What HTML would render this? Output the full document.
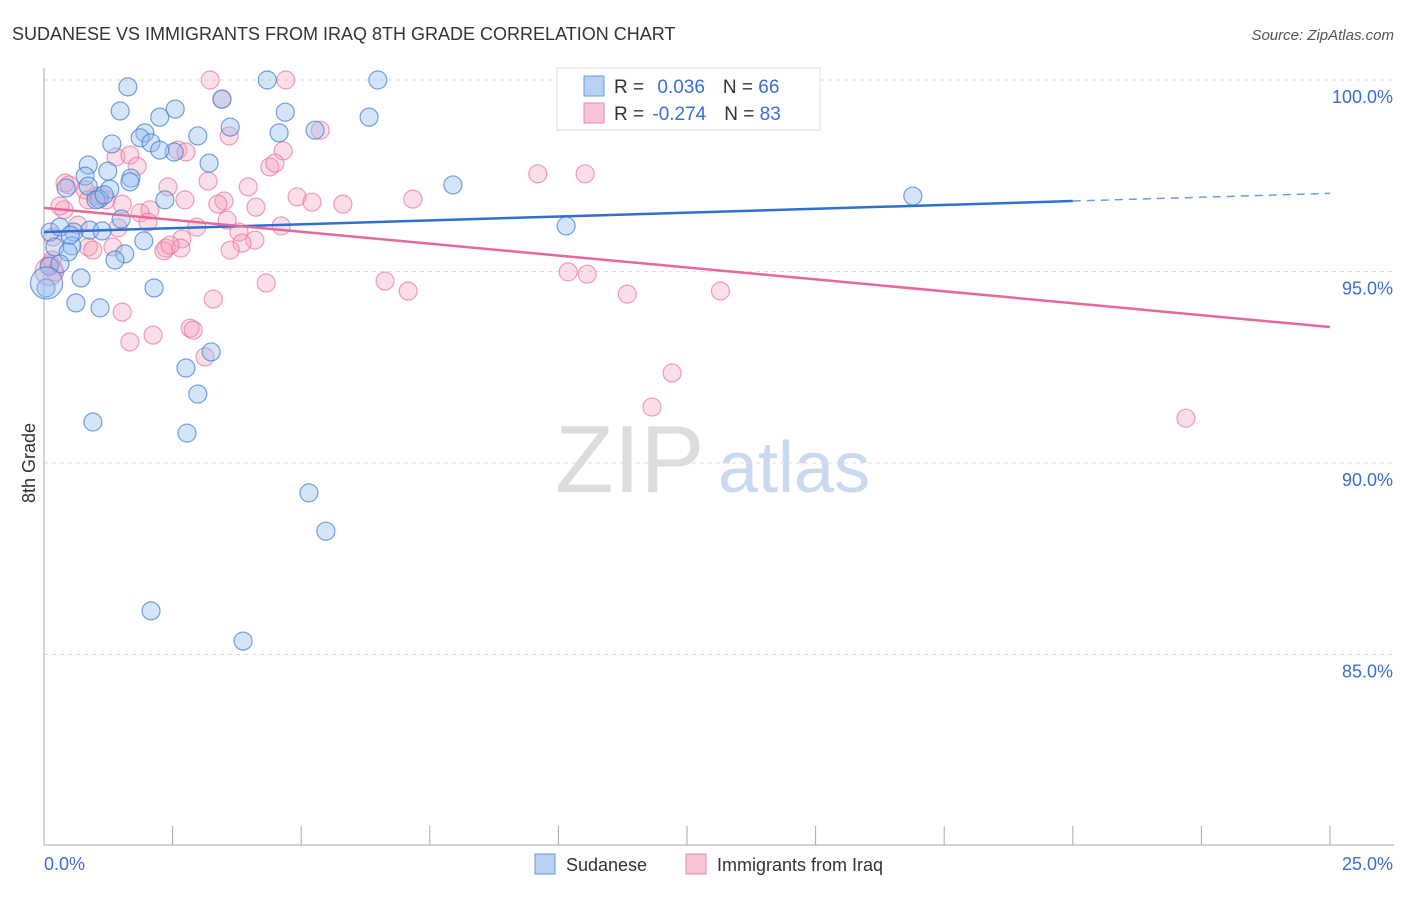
<!DOCTYPE html>
<html><head><meta charset="utf-8"><style>
body{margin:0;background:#fff;font-family:"Liberation Sans",sans-serif}
svg text{font-family:"Liberation Sans",sans-serif}
</style></head><body>
<svg width="1406" height="892" xmlns="http://www.w3.org/2000/svg">
<text x="12" y="40" font-size="18" fill="#333">SUDANESE VS IMMIGRANTS FROM IRAQ 8TH GRADE CORRELATION CHART</text>
<text x="1394" y="40" font-size="15" fill="#555" font-style="italic" text-anchor="end">Source: ZipAtlas.com</text>
<text x="35" y="463" font-size="18" fill="#333" transform="rotate(-90 35 463)" text-anchor="middle">8th Grade</text>
<text x="555" y="492" font-size="96" fill="#ddd" font-family="Liberation Serif">ZIP</text>
<text x="718" y="492" font-size="72" fill="#c9d9f0">atlas</text>
<g id="grid"></g><g id="pts"></g><g id="lines"></g>
<rect x="557" y="68" width="263" height="62" fill="#fff" stroke="#ddd"/>
<rect x="584" y="76" width="20" height="20" fill="#b7d0f3" stroke="#6a9ee0"/>
<rect x="584" y="103" width="20" height="20" fill="#f8c3d3" stroke="#e98aa8"/>
<text x="614" y="93" font-size="19" fill="#333">R = <tspan fill="#3a6fd0" dx="8">0.036</tspan><tspan dx="18" fill="#333">N = </tspan><tspan fill="#3a6fd0">66</tspan></text>
<text x="614" y="120" font-size="19" fill="#333">R = <tspan fill="#3a6fd0" dx="3">-0.274</tspan><tspan dx="18" fill="#333">N = </tspan><tspan fill="#3a6fd0">83</tspan></text>
<rect x="535" y="854" width="20" height="20" fill="#b7d0f3" stroke="#6a9ee0"/>
<text x="566" y="871" font-size="18" fill="#333">Sudanese</text>
<rect x="686" y="854" width="20" height="20" fill="#f8c3d3" stroke="#e98aa8"/>
<text x="717" y="871" font-size="18" fill="#333">Immigrants from Iraq</text>
</svg>
<script>
const yTicks=[100,95,90,85];
const yTickLabels=["100.0%","95.0%","90.0%","85.0%"];
const xTicks=[0,2.5,5,7.5,10,12.5,15,17.5,20,22.5,25];
const blueX=[1.63,4.34,6.49,1.48,2.55,2.25,3.46,4.69,6.32,1.96,1.87,2.08,1.32,2.99,3.62,4.57,5.27,2.53,0.86,1.24,0.80,3.21,1.69,1.67,0.43,1.28,0.86,7.95,1.07,2.35,16.89,1.50,0.12,0.31,0.58,0.89,1.13,0.21,0.54,1.94,0.47,1.57,1.38,0.10,0.72,2.14,0.04,0.62,1.09,10.15,3.25,2.76,2.99,0.95,2.78,5.15,5.48,2.08,3.87,1.01,0.31,1.17,2.25,0.51,0.05];
const blueY=[99.82,100,100,99.19,99.24,99.03,99.50,99.16,99.03,98.62,98.49,98.36,98.33,98.54,98.77,98.62,98.69,98.12,97.78,97.62,97.49,97.83,97.44,97.34,97.18,97.15,97.23,97.26,96.89,96.87,96.97,96.37,96.03,96.16,96.03,96.08,96.06,95.64,95.67,95.80,95.51,95.46,95.30,95.14,94.83,94.57,94.57,94.18,94.05,96.19,92.90,92.48,91.80,91.07,90.78,89.22,88.22,86.14,85.35,96.87,95.20,97.00,98.17,95.95,94.7];
const pinkX=[3.23,4.70,14.07,3.46,3.60,5.37,4.65,2.60,1.40,1.67,2.76,1.81,4.39,4.49,9.60,10.52,0.41,0.49,2.41,3.19,3.97,0.80,1.01,1.21,0.86,1.52,2.74,4.92,5.21,3.50,5.81,7.17,4.12,3.38,0.39,0.31,1.87,2.06,2.02,3.56,4.61,0.66,1.44,2.97,3.79,2.68,4.10,3.85,3.62,2.37,2.33,2.66,0.86,1.34,0.95,0.17,0.12,0.21,10.19,10.56,6.63,7.08,4.32,11.34,13.15,3.29,1.52,2.84,2.90,2.12,1.67,3.13,12.21,11.82,22.20,1.09,2.45,0.16,0.10];
const pinkY=[100,100,100,99.50,98.54,98.69,98.15,98.17,97.99,98.04,98.12,97.75,97.73,97.83,97.55,97.55,97.31,97.26,97.21,97.36,97.21,97.13,96.97,96.87,96.87,96.76,96.87,96.95,96.81,96.84,96.76,96.89,96.68,96.76,96.61,96.71,96.53,96.61,96.29,96.34,96.19,96.21,96.14,96.16,96.03,95.85,95.82,95.74,95.56,95.61,95.54,95.61,95.64,95.64,95.56,95.90,95.20,94.99,94.99,94.93,94.75,94.49,94.70,94.41,94.49,94.28,93.94,93.52,93.47,93.34,93.16,92.77,92.35,91.46,91.17,96.97,95.69,95.30,95.0];
const blueTrend=[[0,96.03],[20,96.84],[25,97.04]];
const pinkTrend=[[0,96.66],[25,93.55]];
const NS="http://www.w3.org/2000/svg";
const X=v=>44+v/25*1286, Y=v=>80+(100-v)*38.3;
function mk(t,a,p){const e=document.createElementNS(NS,t);for(const k in a)e.setAttribute(k,a[k]);p.appendChild(e);return e;}
const g=document.getElementById('grid');
yTicks.forEach((t,i)=>{const l=mk('line',{x1:44,x2:1394,y1:Y(t),y2:Y(t),stroke:'#ddd','stroke-dasharray':'4 4'},g);


const tx=mk('text',{x:1393,y:Y(t)+23,'font-size':18,fill:'#3a6fd0','text-anchor':'end'},g);tx.textContent=yTickLabels[i];

});
const ax=mk('line',{x1:44,x2:44,y1:68,y2:845,stroke:'#aaa'},g);


const bx=mk('line',{x1:44,x2:1394,y1:845,y2:845,stroke:'#aaa'},g);


xTicks.forEach(t=>{const l=mk('line',{x1:X(t),x2:X(t),y1:826,y2:845,stroke:'#aaa'},g);

});
const t0=mk('text',{x:44,y:870,'font-size':18,fill:'#3a6fd0'},g);t0.textContent='0.0%';


const t1=mk('text',{x:1393,y:870,'font-size':18,fill:'#3a6fd0','text-anchor':'end'},g);t1.textContent='25.0%';


const p=document.getElementById('pts');
pinkX.forEach((x,i)=>{const c=mk('circle',{cx:X(x),cy:Y(pinkY[i]),r:i==pinkX.length-1?14:9,fill:'rgba(245,160,185,0.35)',stroke:'rgba(232,120,155,0.7)','stroke-width':1.2},p);

});
blueX.forEach((x,i)=>{const c=mk('circle',{cx:X(x),cy:Y(blueY[i]),r:i==blueX.length-1?16:9,fill:'rgba(150,190,240,0.4)',stroke:'rgba(70,130,215,0.75)','stroke-width':1.2},p);

});
const L=document.getElementById('lines');
const b1=mk('line',{x1:X(blueTrend[0][0]),y1:Y(blueTrend[0][1]),x2:X(blueTrend[1][0]),y2:Y(blueTrend[1][1]),stroke:'#2f6fd0','stroke-width':2.5},L);


const b2=mk('line',{x1:X(blueTrend[1][0]),y1:Y(blueTrend[1][1]),x2:X(blueTrend[2][0]),y2:Y(blueTrend[2][1]),stroke:'#6a9ee0','stroke-width':1.5,'stroke-dasharray':'8 6'},L);


const p1=mk('line',{x1:X(pinkTrend[0][0]),y1:Y(pinkTrend[0][1]),x2:X(pinkTrend[1][0]),y2:Y(pinkTrend[1][1]),stroke:'#e5689a','stroke-width':2.5},L);


</script>
</body></html>
